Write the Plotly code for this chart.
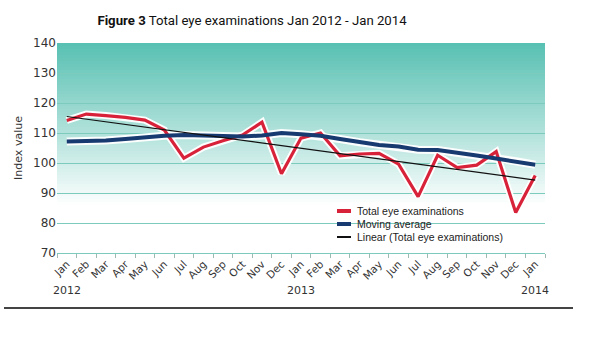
import plotly.graph_objects as go

# ---- data ----
categories = ["Jan 2012", "Feb 2012", "Mar 2012", "Apr 2012", "May 2012", "Jun 2012",
              "Jul 2012", "Aug 2012", "Sep 2012", "Oct 2012", "Nov 2012", "Dec 2012",
              "Jan 2013", "Feb 2013", "Mar 2013", "Apr 2013", "May 2013", "Jun 2013",
              "Jul 2013", "Aug 2013", "Sep 2013", "Oct 2013", "Nov 2013", "Dec 2013",
              "Jan 2014"]
month_labels = ["Jan", "Feb", "Mar", "Apr", "May", "Jun", "Jul", "Aug", "Sep", "Oct", "Nov", "Dec",
                "Jan", "Feb", "Mar", "Apr", "May", "Jun", "Jul", "Aug", "Sep", "Oct", "Nov", "Dec",
                "Jan"]
year_labels = {"Jan 2012": "2012", "Jan 2013": "2013", "Jan 2014": "2014"}

total_exams = [114.2, 116.3, 115.8, 115.2, 114.3, 111.0, 101.6, 105.3, 107.4, 109.3, 113.6, 96.4,
               108.3, 110.0, 102.4, 103.0, 103.2, 99.6, 88.8, 102.6, 98.5, 99.3, 103.8, 83.5, 95.8]
moving_avg = [107.2, 107.2, 107.5, 108.0, 108.7, 109.1, 109.3, 109.1, 108.8, 108.8, 109.2, 110.0,
              109.6, 109.1, 108.0, 106.9, 106.0, 105.5, 104.4, 104.3, 103.5, 102.5, 101.5, 100.6, 99.4]
trend_x = ["Jan 2012", "Jan 2014"]
trend_y = [115.5, 94.3]

series_names = ["Total eye examinations", "Moving average", "Linear (Total eye examinations)"]

# ---- styling ----
RED = "#d8223a"
BLUE = "#173a70"
GRID = "#7ccbbd"
FONT = "DejaVu Sans"
LEGEND_FONT = "Liberation Sans"

fig = go.Figure()

# white halos
fig.add_trace(go.Scatter(x=categories, y=moving_avg, mode="lines", showlegend=False,
                         line=dict(color="rgba(255,255,255,0.95)", width=8), hoverinfo="skip"))
fig.add_trace(go.Scatter(x=categories, y=total_exams, mode="lines", showlegend=False,
                         line=dict(color="rgba(255,255,255,0.95)", width=7), hoverinfo="skip"))

fig.add_trace(go.Scatter(x=categories, y=total_exams, mode="lines", name=series_names[0],
                         line=dict(color=RED, width=3.2), showlegend=False))
fig.add_trace(go.Scatter(x=categories, y=moving_avg, mode="lines", name=series_names[1],
                         line=dict(color=BLUE, width=4), showlegend=False))
fig.add_trace(go.Scatter(x=trend_x, y=trend_y, mode="lines", name=series_names[2],
                         line=dict(color="#111111", width=1.2), showlegend=False))

# gradient background bands
shapes = []
top = (88, 192, 178)
n = 70
for i in range(n):
    y0 = 70 + i * 70 / n
    y1 = 70 + (i + 1) * 70 / n
    mid = (y0 + y1) / 2
    t = max(0.0, min(1.0, (mid - 86) / 54)) ** 0.95
    c = tuple(int(round(255 + (top[k] - 255) * t)) for k in range(3))
    shapes.append(dict(type="rect", xref="paper", yref="y", x0=0, x1=1, y0=y0, y1=y1,
                       fillcolor="rgb(%d,%d,%d)" % c, line=dict(width=0), layer="below"))

# legend panel (paper coords; plot area is 488 x 210 px)
PW, PH = 488.0, 210.0
def px(xp):
    return (xp - 57) / PW
def py(yp):
    return (253 - yp) / PH

shapes.append(dict(type="rect", xref="paper", yref="paper", x0=px(332), x1=1, y0=py(249), y1=py(203),
                   fillcolor="white", line=dict(width=0), layer="below"))

annotations = []
legend_colors = [RED, BLUE, "#111111"]
legend_widths = [4, 4, 2]
row_y = [211, 224, 237]
for name, col, w, ry in zip(series_names, legend_colors, legend_widths, row_y):
    shapes.append(dict(type="line", xref="paper", yref="paper", x0=px(337), x1=px(351),
                       y0=py(ry), y1=py(ry), line=dict(color=col, width=w)))
    annotations.append(dict(x=px(355), y=py(ry), xref="paper", yref="paper", text=name,
                            showarrow=False, xanchor="left", yanchor="middle",
                            font=dict(family=LEGEND_FONT, size=10.5, color="#222222")))

# bottom rule
shapes.append(dict(type="line", xref="paper", yref="paper", x0=px(4), x1=px(573), y0=py(308), y1=py(308),
                   line=dict(color="#444444", width=2)))

for cat, yr in year_labels.items():
    annotations.append(dict(x=cat, y=py(290), xref="x", yref="paper", text=yr, showarrow=False,
                            font=dict(family=FONT, size=11, color="#333333"), yanchor="middle"))

fig.update_layout(
    width=600, height=337,
    margin=dict(l=57, r=55, t=43, b=84),
    paper_bgcolor="white", plot_bgcolor="white",
    title=dict(text="<b>Figure 3</b> Total eye examinations Jan 2012 - Jan 2014",
               x=0.42, xanchor="center", xref="container", y=0.94, yanchor="middle",
               font=dict(family="Roboto", size=13.2, color="#111111")),
    shapes=shapes, annotations=annotations,
    showlegend=False,
    xaxis=dict(type="category", tickmode="array", tickvals=categories, ticktext=month_labels,
               tickangle=-45, tickson="boundaries", ticks="outside", ticklen=4, tickcolor="#9fb9b3",
               showline=True, linecolor=GRID, linewidth=1, showgrid=False,
               range=[-0.5, 24.5], tickfont=dict(family=FONT, size=10.5, color="#333333")),
    yaxis=dict(range=[70, 140], tickvals=[70, 80, 90, 100, 110, 120, 130, 140],
               showgrid=True, gridcolor=GRID, gridwidth=1, zeroline=False, showline=False,
               ticks="", tickfont=dict(family=FONT, size=12, color="#333333"),
               title=dict(text="Index value", font=dict(family=FONT, size=11, color="#333333"), standoff=8)),
)

fig.write_html("out.html")
